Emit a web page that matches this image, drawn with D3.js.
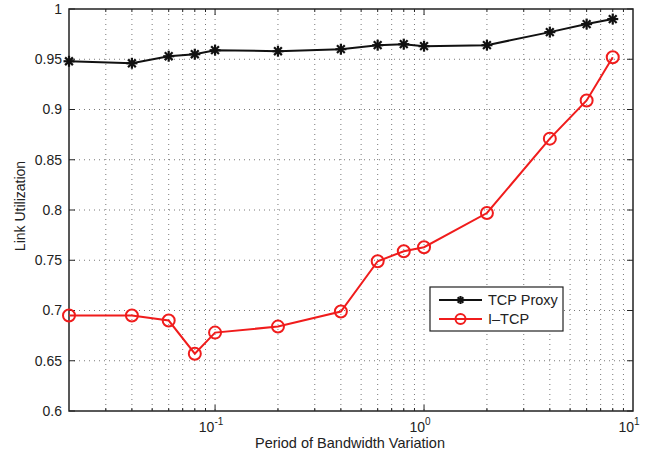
<!DOCTYPE html>
<html>
<head>
<meta charset="utf-8">
<script src="https://cdn.jsdelivr.net/npm/d3@7"></script>
<style>
body { margin: 0; background: #fff; }
text { font-family: "Liberation Sans", Arial, sans-serif; fill: #222; }
</style>
</head>
<body>
<svg></svg>
<script>
// data
const periods = [0.02, 0.04, 0.06, 0.08, 0.1, 0.2, 0.4, 0.6, 0.8, 1, 2, 4, 6, 8];
const tcpProxy = [0.948, 0.946, 0.953, 0.955, 0.959, 0.958, 0.960, 0.964, 0.965, 0.963, 0.964, 0.977, 0.985, 0.990];
const iTcp = [0.695, 0.695, 0.690, 0.657, 0.678, 0.684, 0.699, 0.749, 0.759, 0.763, 0.797, 0.871, 0.909, 0.952];
const yTicks = [0.6, 0.65, 0.7, 0.75, 0.8, 0.85, 0.9, 0.95, 1];
const decades = [-1, 0, 1];

const width = 652, height = 455;
const margin = { top: 9, right: 19, bottom: 44, left: 69 };
const innerWidth = width - margin.left - margin.right;
const innerHeight = height - margin.top - margin.bottom;

const svg = d3.select("svg").attr("width", width).attr("height", height);
const g = svg.append("g").attr("transform", `translate(${margin.left},${margin.top})`);

const x = d3.scaleLog().domain([0.02, 10]).range([0, innerWidth]);
const y = d3.scaleLinear().domain([0.6, 1]).range([innerHeight, 0]);

// minor log ticks
let minor = [];
for (let e = -2; e <= 0; e++) {
    for (let m = 1; m <= 9; m++) {
        let v = m * Math.pow(10, e);
        if (v > 0.02 && v < 10) minor.push(v);
    }
}

// grid
g.append("g").selectAll("line").data(minor).enter().append("line")
    .attr("x1", d => x(d)).attr("x2", d => x(d))
    .attr("y1", 0).attr("y2", innerHeight)
    .attr("stroke", "#555").attr("stroke-width", 0.8).attr("stroke-dasharray", "1,4");
g.append("g").selectAll("line").data(yTicks.slice(1, -1)).enter().append("line")
    .attr("x1", 0).attr("x2", innerWidth)
    .attr("y1", d => y(d)).attr("y2", d => y(d))
    .attr("stroke", "#555").attr("stroke-width", 0.8).attr("stroke-dasharray", "1,4");

// ticks (inside, on all four sides)
const tickG = g.append("g").attr("stroke", "#222").attr("stroke-width", 1);
minor.forEach(v => {
    let major = Math.abs(Math.log10(v) - Math.round(Math.log10(v))) < 1e-9;
    let len = major ? 6 : 3;
    tickG.append("line").attr("x1", x(v)).attr("x2", x(v)).attr("y1", innerHeight).attr("y2", innerHeight - len);
    tickG.append("line").attr("x1", x(v)).attr("x2", x(v)).attr("y1", 0).attr("y2", len);
});
yTicks.forEach(v => {
    tickG.append("line").attr("x1", 0).attr("x2", 6).attr("y1", y(v)).attr("y2", y(v));
    tickG.append("line").attr("x1", innerWidth).attr("x2", innerWidth - 6).attr("y1", y(v)).attr("y2", y(v));
});

// frame
g.append("rect").attr("width", innerWidth).attr("height", innerHeight)
    .attr("fill", "none").attr("stroke", "#222").attr("stroke-width", 1.5);

// y tick labels
g.append("g").selectAll("text").data(yTicks).enter().append("text")
    .attr("x", -7).attr("y", d => y(d)).attr("dy", "0.35em")
    .attr("text-anchor", "end").attr("font-size", 14)
    .text(d => d3.format("")(+d.toFixed(2)));

// x tick labels 10^n
decades.forEach(e => {
    let t = g.append("text").attr("x", x(Math.pow(10, e)) - 4).attr("y", innerHeight + 21)
        .attr("text-anchor", "middle").attr("font-size", 14);
    t.append("tspan").text("10");
    t.append("tspan").attr("dy", -7).attr("font-size", 10).text(e);
});

// axis titles
g.append("text").attr("x", innerWidth / 2 - 1).attr("y", innerHeight + 37)
    .attr("text-anchor", "middle").attr("font-size", 14.5).text("Period of Bandwidth Variation");
svg.append("text").attr("transform", "translate(25,206) rotate(-90)")
    .attr("text-anchor", "middle").attr("font-size", 14).text("Link Utilization");

const red = "#f01c1c";
const line = d3.line().x(d => x(d[0])).y(d => y(d[1]));
const proxyPts = periods.map((p, i) => [p, tcpProxy[i]]);
const itcpPts = periods.map((p, i) => [p, iTcp[i]]);

function star(sel, cx, cy, r) {
    let s = sel.append("g").attr("transform", `translate(${cx},${cy})`)
        .attr("stroke", "#111").attr("stroke-width", 2.2);
    for (let k = 0; k < 4; k++) {
        let a = k * Math.PI / 4;
        s.append("line").attr("x1", -r * Math.cos(a)).attr("y1", -r * Math.sin(a))
            .attr("x2", r * Math.cos(a)).attr("y2", r * Math.sin(a));
    }
}

g.append("path").datum(proxyPts).attr("d", line)
    .attr("fill", "none").attr("stroke", "#111").attr("stroke-width", 2);
proxyPts.forEach(d => star(g, x(d[0]), y(d[1]), 5.5));

g.append("path").datum(itcpPts).attr("d", line)
    .attr("fill", "none").attr("stroke", red).attr("stroke-width", 2);
g.append("g").selectAll("circle").data(itcpPts).enter().append("circle")
    .attr("cx", d => x(d[0])).attr("cy", d => y(d[1])).attr("r", 6)
    .attr("fill", "none").attr("stroke", red).attr("stroke-width", 2);

// legend
const lg = svg.append("g").attr("transform", "translate(430,287)");
lg.append("rect").attr("width", 133).attr("height", 44)
    .attr("fill", "#fff").attr("stroke", "#222").attr("stroke-width", 1.2);
lg.append("line").attr("x1", 9).attr("x2", 52).attr("y1", 13).attr("y2", 13)
    .attr("stroke", "#111").attr("stroke-width", 2);
star(lg, 30.5, 13, 4);
lg.append("text").attr("x", 58).attr("y", 13).attr("dy", "0.35em").attr("font-size", 14.5).text("TCP Proxy");
lg.append("line").attr("x1", 9).attr("x2", 52).attr("y1", 32).attr("y2", 32)
    .attr("stroke", red).attr("stroke-width", 2);
lg.append("circle").attr("cx", 30.5).attr("cy", 32).attr("r", 5)
    .attr("fill", "none").attr("stroke", red).attr("stroke-width", 2);
lg.append("text").attr("x", 58).attr("y", 32).attr("dy", "0.35em").attr("font-size", 14.5).text("I\u2013TCP");
</script>
</body>
</html>
